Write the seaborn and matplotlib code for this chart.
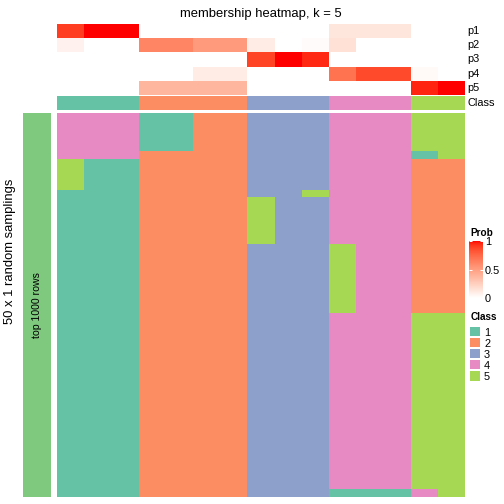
import numpy as np
import pandas as pd
import seaborn as sns
import matplotlib.pyplot as plt
from matplotlib.colors import ListedColormap, to_rgb
from matplotlib.patches import Patch
from matplotlib.cm import ScalarMappable
from matplotlib.colors import Normalize

# membership probabilities per column (15 samples), rows p1..p5
prob_labels = ["p1", "p2", "p3", "p4", "p5"]
p1 = [0.90, 1.00, 1.00, 0, 0, 0, 0, 0, 0, 0, 0.13, 0.13, 0.13, 0, 0]
p2 = [0.07, 0, 0, 0.62, 0.62, 0.52, 0.52, 0.10, 0, 0.02, 0.16, 0, 0, 0, 0]
p3 = [0, 0, 0, 0, 0, 0, 0, 0.88, 1.00, 0.95, 0, 0, 0, 0, 0]
p4 = [0, 0, 0, 0, 0, 0.10, 0.10, 0, 0, 0, 0.70, 0.86, 0.86, 0.03, 0]
p5 = [0, 0, 0, 0.38, 0.38, 0.38, 0.38, 0, 0, 0, 0, 0, 0, 0.96, 1.00]
consensus_class = [1, 1, 1, 2, 2, 2, 2, 3, 3, 3, 4, 4, 4, 5, 5]

# class of each sample in the 50 random samplings, as (class, number of rows) runs per column
col_runs = [
    [(4, 6), (5, 4), (1, 40)],
    [(4, 6), (1, 44)],
    [(4, 6), (1, 44)],
    [(1, 5), (2, 45)],
    [(1, 5), (2, 45)],
    [(2, 50)],
    [(2, 50)],
    [(3, 11), (5, 6), (3, 33)],
    [(3, 50)],
    [(3, 10), (5, 1), (3, 39)],
    [(4, 17), (5, 9), (4, 23), (1, 1)],
    [(4, 49), (1, 1)],
    [(4, 49), (1, 1)],
    [(5, 5), (1, 1), (2, 20), (5, 23), (4, 1)],
    [(5, 6), (2, 20), (5, 24)],
]

class_colors = ["#66C2A5", "#FC8D62", "#8DA0CB", "#E78AC3", "#A6D854"]
class_names = ["1", "2", "3", "4", "5"]


# white -> red in LAB space, like colorRamp2
def srgb_to_lab(c):
    c = np.asarray(c, float)
    lin = np.where(c <= 0.04045, c / 12.92, ((c + 0.055) / 1.055) ** 2.4)
    M = np.array([[0.4124, 0.3576, 0.1805], [0.2126, 0.7152, 0.0722], [0.0193, 0.1192, 0.9505]])
    xyz = M @ lin / np.array([0.95047, 1.0, 1.08883])
    f = np.where(xyz > 0.008856, np.cbrt(xyz), 7.787 * xyz + 16 / 116)
    return np.array([116 * f[1] - 16, 500 * (f[0] - f[1]), 200 * (f[1] - f[2])])


def lab_to_srgb(lab):
    L, a, b = lab
    fy = (L + 16) / 116
    f = np.array([fy + a / 500, fy, fy - b / 200])
    xyz = np.where(f ** 3 > 0.008856, f ** 3, (f - 16 / 116) / 7.787) * np.array([0.95047, 1.0, 1.08883])
    Minv = np.array([[3.2406, -1.5372, -0.4986], [-0.9689, 1.8758, 0.0415], [0.0557, -0.2040, 1.0570]])
    lin = np.clip(Minv @ xyz, 0, 1)
    return np.clip(np.where(lin <= 0.0031308, 12.92 * lin, 1.055 * lin ** (1 / 2.4) - 0.055), 0, 1)


w_lab, r_lab = srgb_to_lab(to_rgb("white")), srgb_to_lab(to_rgb("red"))
prob_cmap = ListedColormap([lab_to_srgb(w_lab + t * (r_lab - w_lab)) for t in np.linspace(0, 1, 256)])
class_cmap = ListedColormap(class_colors)

prob = pd.DataFrame([p1, p2, p3, p4, p5], index=prob_labels)
member = np.array([[c for c, n in runs for _ in range(n)] for runs in col_runs]).T

plt.rcParams['font.family'] = ['Liberation Sans', 'DejaVu Sans']

W = H = 504
fig = plt.figure(figsize=(7, 7), dpi=72)


def rect(x0, y0, x1, y1):
    return [x0 / W, 1 - y1 / H, (x1 - x0) / W, (y1 - y0) / H]


# top annotation: probabilities
ax_p = fig.add_axes(rect(57, 24, 465, 95))
sns.heatmap(prob, ax=ax_p, cmap=prob_cmap, vmin=0, vmax=1, cbar=False,
            xticklabels=False, yticklabels=False)
for i, lab in enumerate(prob_labels):
    ax_p.text(15.1, i + 0.5, lab, ha="left", va="center", fontsize=11)
ax_p.set_title("membership heatmap, k = 5", fontsize=13, pad=7)

# top annotation: class
ax_c = fig.add_axes(rect(57, 95.5, 465, 109.5))
sns.heatmap(pd.DataFrame([consensus_class]), ax=ax_c, cmap=class_cmap, vmin=0.5, vmax=5.5,
            cbar=False, xticklabels=False, yticklabels=False)
ax_c.text(15.1, 0.5, "Class", ha="left", va="center", fontsize=11)

# main body
ax_m = fig.add_axes(rect(57, 113, 465, 497))
sns.heatmap(member, ax=ax_m, cmap=class_cmap, vmin=0.5, vmax=5.5, cbar=False,
            xticklabels=False, yticklabels=False)

# left row annotation
ax_l = fig.add_axes(rect(23, 113, 51, 497))
sns.heatmap(np.ones((1, 1)), ax=ax_l, cmap=ListedColormap(["#7FC97F"]), cbar=False,
            xticklabels=False, yticklabels=False)
ax_l.text(0.5, 0.5, "top 1000 rows", rotation=90, ha="center", va="center", fontsize=10.5)

fig.text(10 / W, 1 - 251 / H, "50 x 1 random samplings", rotation=90, ha="center", va="center", fontsize=13)

# Prob legend
cax = fig.add_axes(rect(469, 241, 483, 298))
cb = fig.colorbar(ScalarMappable(norm=Normalize(0, 1), cmap=prob_cmap), cax=cax, ticks=[0, 0.5, 1])
cb.outline.set_visible(False)
cb.ax.set_yticklabels(["0", "0.5", "1"])
cax.tick_params(direction="in", color="white", length=3, width=1, labelsize=11, pad=2,
                left=True, right=True)
fig.text(470 / W, 1 - 233 / H, "Prob", fontsize=10, fontweight="bold", ha="left", va="center")

# Class legend
handles = [Patch(facecolor=c, edgecolor="none", label=n) for c, n in zip(class_colors, class_names)]
leg = fig.legend(handles=handles, title="Class", loc="upper left", bbox_to_anchor=(467 / W, 1 - 309 / H),
                 frameon=False, fontsize=11, handlelength=0.9, handleheight=0.9,
                 labelspacing=0.06, handletextpad=0.35, borderaxespad=0, borderpad=0.3)
leg.get_title().set_fontweight("bold")
leg.get_title().set_fontsize(10)
leg._legend_box.align = "left"
leg._legend_box.sep = 5

fig.savefig("out.png", dpi=72)
